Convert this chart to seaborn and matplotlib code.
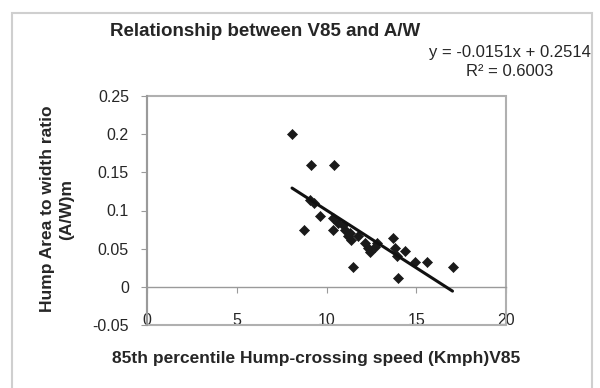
import matplotlib
matplotlib.use("Agg")
import matplotlib.pyplot as plt
from matplotlib.patches import Rectangle
import pandas as pd
import seaborn as sns

# values
speed_v85 = [8.08, 9.12, 10.41, 9.07, 9.30, 9.63, 8.73, 10.37, 10.36, 10.65,
             10.93, 11.02, 11.20, 11.30, 11.39, 11.76, 12.14, 12.32, 12.41, 12.69,
             12.79, 13.68, 13.81, 13.90, 14.35, 11.45, 13.99, 14.92, 15.61, 17.02]
area_width = [0.200, 0.160, 0.160, 0.114, 0.110, 0.093, 0.074, 0.074, 0.090, 0.083,
              0.081, 0.074, 0.066, 0.070, 0.061, 0.066, 0.057, 0.051, 0.046, 0.052,
              0.057, 0.064, 0.051, 0.040, 0.047, 0.026, 0.011, 0.033, 0.032, 0.026]

# Excel trendline as printed on the chart
slope = -0.0151
intercept = 0.2514
r_squared = 0.6003

x_ticks = [0, 5, 10, 15, 20]
y_ticks = [-0.05, 0, 0.05, 0.1, 0.15, 0.2, 0.25]
y_tick_labels = ["-0.05", "0", "0.05", "0.1", "0.15", "0.2", "0.25"]

df = pd.DataFrame({"V85": speed_v85, "AW": area_width})
x_lo, x_hi = min(speed_v85), max(speed_v85)
trend = pd.DataFrame({"V85": [x_lo, x_hi],
                      "AW": [slope * x_lo + intercept, slope * x_hi + intercept]})

sns.set_theme(style="white")
plt.rcParams["font.family"] = ["Liberation Sans", "DejaVu Sans"]

text_col = "#262626"
grey = "#9a9a9a"

fig = plt.figure(figsize=(6, 3.88), dpi=100)
ax = fig.add_axes([147 / 600, 1 - 325 / 388, 359 / 600, 229 / 388])

sns.scatterplot(data=df, x="V85", y="AW", marker="D", s=26, color="#1a1a1a",
                edgecolor="#1a1a1a", linewidth=0.5, ax=ax, zorder=3)
sns.lineplot(data=trend, x="V85", y="AW", color="#111111", linewidth=2.2, ax=ax, zorder=4)

ax.set_xlim(0, 20)
ax.set_ylim(-0.05, 0.25)
ax.set_xticks(x_ticks)
ax.set_yticks(y_ticks)
ax.set_yticklabels(y_tick_labels)
ax.set_xlabel("")
ax.set_ylabel("")

# horizontal axis crosses at y = 0, plot area keeps its grey box
for side in ["top", "right"]:
    ax.spines[side].set_visible(False)
ax.spines["bottom"].set_position(("data", 0))
ax.spines["bottom"].set_color(grey)
ax.spines["bottom"].set_linewidth(1.0)
ax.spines["left"].set_color(grey)
ax.spines["left"].set_linewidth(1.5)
ax.add_patch(Rectangle((0, 0), 1, 1, transform=ax.transAxes, fill=False,
                       edgecolor="#b0b0b0", linewidth=1.5, clip_on=False, zorder=1))

ax.tick_params(axis="x", direction="out", length=4, width=0.8, color=grey,
               pad=15, labelsize=11.5, labelcolor=text_col)
ax.tick_params(axis="y", direction="out", length=4, width=0.8, color=grey,
               pad=9, labelsize=11.5, labelcolor=text_col, left=True)
ax.tick_params(axis="x", bottom=True)

# chart area border
fig.add_artist(Rectangle((12 / 600, -0.05), 580 / 600, 1 - 12.7 / 388 + 0.05,
                         transform=fig.transFigure, fill=False,
                         edgecolor="#cfcfcf", linewidth=1.5))

fig.text(265 / 600, 1 - 31 / 388, "Relationship between V85 and A/W",
         ha="center", va="center", fontsize=13.5, fontweight="bold", color=text_col)
fig.text(510 / 600, 1 - 62 / 388,
         f"y = {slope:.4f}x + {intercept:.4f}\nR\u00b2 = {r_squared:.4f}",
         ha="center", va="center", fontsize=12, color=text_col, linespacing=1.35)
fig.text(316 / 600, 1 - 358 / 388, "85th percentile Hump-crossing speed (Kmph)V85",
         ha="center", va="center", fontsize=12.5, fontweight="bold", color=text_col)
fig.text(57 / 600, 1 - 209 / 388, "Hump Area to width ratio\n(A/W)m",
         ha="center", va="center", rotation=90, multialignment="center",
         fontsize=12.5, fontweight="bold", color=text_col, linespacing=1.3)

fig.savefig("out.png", dpi=100)
plt.close(fig)
